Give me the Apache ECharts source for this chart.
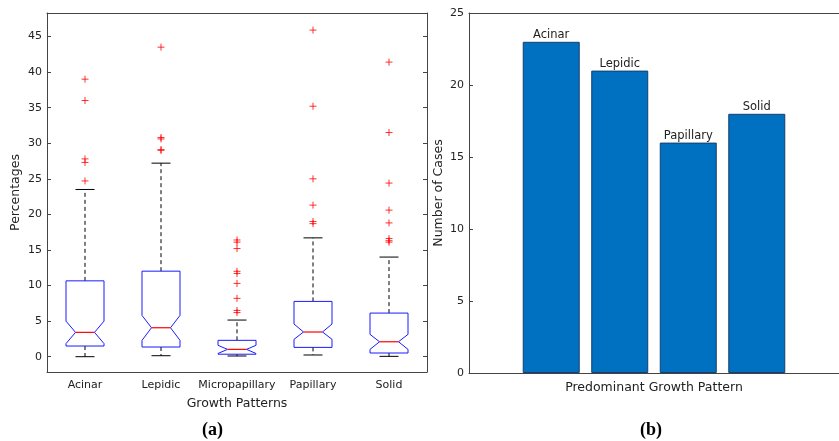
<!DOCTYPE html>
<html>
<head>
<meta charset="utf-8">
<script src="https://cdn.jsdelivr.net/npm/echarts@6/dist/echarts.min.js"></script>
<style>
  html, body { margin: 0; padding: 0; background: #fff; }
  #main { width: 839px; height: 441px; }
</style>
</head>
<body>
<div id="main"></div>
<script>
// (a) box plot per growth pattern
var categories = ['Acinar', 'Lepidic', 'Micropapillary', 'Papillary', 'Solid'];
var whiskerLow = [0, 0.14, 0.1, 0.24, 0.05];
var q1 = [1.5, 1.36, 0.35, 1.31, 0.52];
var notchLow = [1.84, 2.3, 0.45, 2.44, 1.03];
var median = [3.42, 4.07, 1.03, 3.47, 2.1];
var notchHigh = [5.0, 5.8, 1.6, 4.59, 3.14];
var q3 = [10.66, 12.02, 2.3, 7.77, 6.13];
var whiskerHigh = [23.5, 27.2, 5.15, 16.7, 14.0];
var outliers = [
  [24.7, 27.3, 27.8, 36.0, 39.0],
  [29.0, 29.1, 30.6, 30.8, 43.5],
  [6.2, 6.5, 8.2, 10.3, 11.7, 12.0, 15.2, 16.1, 16.4],
  [18.7, 19.0, 21.3, 25.0, 35.2, 45.9],
  [16.1, 16.3, 16.6, 18.8, 20.6, 24.4, 31.5, 41.4]
];
var pctTicks = [0, 5, 10, 15, 20, 25, 30, 35, 40, 45];

// (b) predominant pattern counts
var barCategories = ['Acinar', 'Lepidic', 'Papillary', 'Solid'];
var barPositions = [1, 2, 3, 4];
var barCounts = [23, 21, 16, 18];

var font = 'DejaVu Sans';
var axisColor = '#444';

var boxData = categories.map(function (c, i) {
  return [i, whiskerLow[i], q1[i], notchLow[i], median[i], notchHigh[i], q3[i], whiskerHigh[i]];
});
var outlierData = [];
outliers.forEach(function (list, i) {
  list.forEach(function (v) { outlierData.push([i, v]); });
});
var barData = barCategories.map(function (c, i) {
  return { name: c, value: [barPositions[i], barCounts[i]] };
});

function renderBox(params, api) {
  var idx = api.value(0);
  var v = [1, 2, 3, 4, 5, 6, 7].map(function (d) { return api.value(d); });
  var band = api.size([1, 0])[0];
  var h = band * 0.25;
  var x = api.coord([idx, 0])[0];
  function y(val) { return api.coord([idx, val])[1]; }
  var yWl = y(v[0]), yQ1 = y(v[1]), yNl = y(v[2]), yMed = y(v[3]), yNh = y(v[4]), yQ3 = y(v[5]), yWh = y(v[6]);
  var dash = { stroke: '#000', lineWidth: 1, lineDash: [4, 3] };
  var solid = { stroke: '#000', lineWidth: 1 };
  return {
    type: 'group',
    children: [
      { type: 'line', shape: { x1: x, y1: yQ3, x2: x, y2: yWh }, style: dash },
      { type: 'line', shape: { x1: x, y1: yQ1, x2: x, y2: yWl }, style: dash },
      { type: 'line', shape: { x1: x - h / 2, y1: yWh, x2: x + h / 2, y2: yWh }, style: solid },
      { type: 'line', shape: { x1: x - h / 2, y1: yWl, x2: x + h / 2, y2: yWl }, style: solid },
      {
        type: 'polygon',
        shape: {
          points: [
            [x - h, yQ3], [x + h, yQ3], [x + h, yNh], [x + h / 2, yMed], [x + h, yNl],
            [x + h, yQ1], [x - h, yQ1], [x - h, yNl], [x - h / 2, yMed], [x - h, yNh]
          ]
        },
        style: { fill: 'none', stroke: '#1a1aff', lineWidth: 1 }
      },
      { type: 'line', shape: { x1: x - h / 2, y1: yMed, x2: x + h / 2, y2: yMed }, style: { stroke: '#ff0000', lineWidth: 1.2 } }
    ]
  };
}

var chart = echarts.init(document.getElementById('main'));
chart.setOption({
  animation: false,
  textStyle: { fontFamily: font },
  grid: [
    { left: 47, top: 13, width: 380, height: 359 },
    { left: 469, top: 13, width: 381, height: 360 }
  ],
  xAxis: [
    {
      gridIndex: 0, type: 'category', data: categories, position: 'bottom',
      name: 'Growth Patterns', nameLocation: 'middle', nameGap: 25,
      nameTextStyle: { fontSize: 12.5, color: '#222', fontFamily: font },
      axisLine: { onZero: false, lineStyle: { color: axisColor } },
      axisTick: { inside: true, length: 4, alignWithLabel: true, lineStyle: { color: axisColor } },
      axisLabel: { interval: 0, fontSize: 11, color: '#222', margin: 8, fontFamily: font }
    },
    {
      gridIndex: 0, type: 'category', data: categories, position: 'top',
      axisLine: { onZero: false, lineStyle: { color: axisColor } },
      axisTick: { inside: true, length: 4, interval: 0, alignWithLabel: true, lineStyle: { color: axisColor } },
      axisLabel: { show: false }
    },
    {
      gridIndex: 1, type: 'value', min: -0.2, max: 5.2, position: 'bottom',
      name: 'Predominant Growth Pattern', nameLocation: 'middle', nameGap: 8,
      nameTextStyle: { fontSize: 12.5, color: '#222', fontFamily: font },
      axisLine: { onZero: false, lineStyle: { color: axisColor } },
      axisTick: { show: false }, axisLabel: { show: false }, splitLine: { show: false }
    },
    {
      gridIndex: 1, type: 'value', min: -0.2, max: 5.2, position: 'top',
      axisLine: { onZero: false, lineStyle: { color: axisColor } },
      axisTick: { show: false }, axisLabel: { show: false }, splitLine: { show: false }
    }
  ],
  yAxis: [
    {
      gridIndex: 0, type: 'value', min: -2.15, max: 48.3, position: 'left',
      name: 'Percentages', nameLocation: 'middle', nameGap: 25,
      nameTextStyle: { fontSize: 12.5, color: '#222', fontFamily: font },
      axisLine: { show: true, onZero: false, lineStyle: { color: axisColor } },
      axisTick: { show: true, inside: true, length: 4, customValues: pctTicks, lineStyle: { color: axisColor } },
      axisLabel: { fontSize: 11, color: '#222', margin: 5, customValues: pctTicks, fontFamily: font },
      splitLine: { show: false }
    },
    {
      gridIndex: 0, type: 'value', min: -2.15, max: 48.3, position: 'right',
      axisLine: { show: true, onZero: false, lineStyle: { color: axisColor } },
      axisTick: { show: true, inside: true, length: 4, customValues: pctTicks, lineStyle: { color: axisColor } },
      axisLabel: { show: false, customValues: pctTicks },
      splitLine: { show: false }
    },
    {
      gridIndex: 1, type: 'value', min: 0, max: 25, interval: 5, position: 'left',
      name: 'Number of Cases', nameLocation: 'middle', nameGap: 24,
      nameTextStyle: { fontSize: 12.5, color: '#222', fontFamily: font },
      axisLine: { show: true, onZero: false, lineStyle: { color: axisColor } },
      axisTick: { show: true, inside: true, length: 4, lineStyle: { color: axisColor } },
      axisLabel: { fontSize: 11, color: '#222', margin: 5, fontFamily: font },
      splitLine: { show: false }
    }
  ],
  series: [
    {
      type: 'custom', xAxisIndex: 0, yAxisIndex: 0,
      renderItem: renderBox,
      encode: { x: 0, y: [1, 2, 3, 4, 5, 6, 7] },
      data: boxData
    },
    {
      type: 'scatter', xAxisIndex: 0, yAxisIndex: 0,
      symbol: 'path://M0,5L10,5M5,0L5,10', symbolSize: 7,
      itemStyle: { color: 'transparent', borderColor: '#ff0000', borderWidth: 1 },
      data: outlierData
    },
    {
      type: 'bar', xAxisIndex: 2, yAxisIndex: 2,
      barWidth: 57,
      itemStyle: { color: '#0070c0', borderColor: '#163f6e', borderWidth: 1 },
      label: { show: true, position: 'top', distance: 1, formatter: '{b}', fontSize: 11.5, color: '#222', fontFamily: font },
      data: barData
    }
  ],
  graphic: [
    { type: 'text', left: 202, top: 421, style: { text: '(a)', font: 'bold 18px "Liberation Serif"', fill: '#000' } },
    { type: 'text', left: 640, top: 421, style: { text: '(b)', font: 'bold 18px "Liberation Serif"', fill: '#000' } }
  ]
});
</script>
</body>
</html>
